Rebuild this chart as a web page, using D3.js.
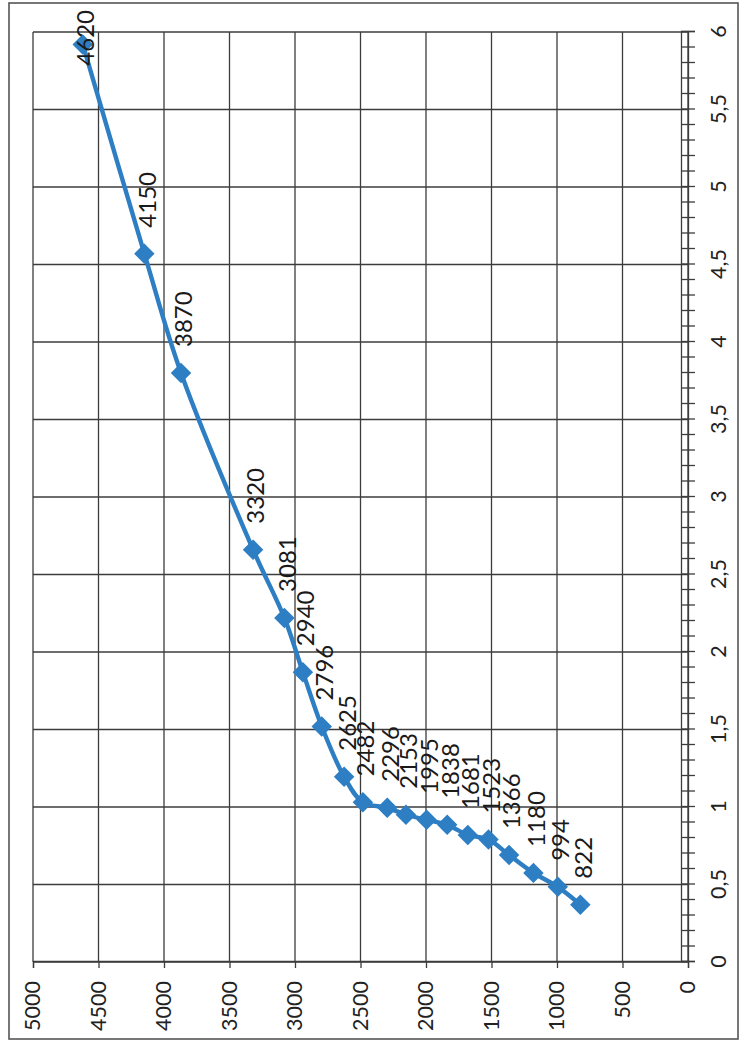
<!DOCTYPE html>
<html>
<head>
<meta charset="utf-8">
<script src="https://cdn.jsdelivr.net/npm/d3@7/dist/d3.min.js"></script>
<style>
  html, body { margin: 0; padding: 0; background: #fff; }
  svg { display: block; font-family: Lato, "Open Sans", sans-serif; }
</style>
</head>
<body>
<svg id="chart" width="743" height="1046"></svg>
<script>
// Scanned Excel scatter chart, printed sideways (rotated 90° CCW).
// Drawn in the chart's own frame, then the whole group is rotated.
const xValues = [0.37, 0.485, 0.575, 0.69, 0.79, 0.82, 0.885, 0.917, 0.95, 0.995,
                 1.03, 1.195, 1.52, 1.87, 2.22, 2.66, 3.80, 4.57, 5.92];
const yValues = [822, 994, 1180, 1366, 1523, 1681, 1838, 1995, 2153, 2296,
                 2482, 2625, 2796, 2940, 3081, 3320, 3870, 4150, 4620];
const xTicks = [0, 0.5, 1, 1.5, 2, 2.5, 3, 3.5, 4, 4.5, 5, 5.5, 6];
const yTicks = [0, 500, 1000, 1500, 2000, 2500, 3000, 3500, 4000, 4500, 5000];

const W = 743, H = 1046;
const BLUE = '#2e7ec4';
const GRID = '#3c3c3c';

const svg = d3.select('#chart');

// outer chart border (page coords)
svg.append('rect')
  .attr('x', 9).attr('y', 3).attr('width', 729).attr('height', 1036)
  .attr('fill', 'none').attr('stroke', '#555').attr('stroke-width', 1.6);

// original frame: (ox, oy) -> page (oy, H - ox)
const g = svg.append('g').attr('transform', `translate(0,${H}) rotate(-90)`);

const x = d3.scaleLinear().domain([0, 6]).range([84, 1014]);
const y = d3.scaleLinear().domain([0, 5000]).range([688, 33]);
const fmt = (d) => String(d).replace('.', ',');

// gridlines
g.append('g').selectAll('line').data(yTicks).join('line')
  .attr('x1', x(0)).attr('x2', x(6))
  .attr('y1', (d) => y(d)).attr('y2', (d) => y(d))
  .attr('stroke', GRID).attr('stroke-width', 1.3);
g.append('g').selectAll('line').data(xTicks).join('line')
  .attr('x1', (d) => x(d)).attr('x2', (d) => x(d))
  .attr('y1', y(0)).attr('y2', y(5000))
  .attr('stroke', GRID).attr('stroke-width', 1.3);

// x axis: labels + cross minor ticks every 0.1
g.append('g').attr('transform', `translate(0,${y(0)})`)
  .call(d3.axisBottom(x).tickValues(xTicks).tickFormat(fmt).tickSize(0).tickPadding(23));
const minor = d3.range(0, 61).map((i) => i / 10);
g.append('g').attr('transform', `translate(0,${y(0) - 7})`)
  .call(d3.axisBottom(x).tickValues(minor).tickFormat('').tickSize(14));

// y axis
g.append('g').attr('transform', `translate(${x(0)},0)`)
  .call(d3.axisLeft(y).tickValues(yTicks).tickFormat(d3.format('d')).tickSize(6).tickPadding(13));

g.selectAll('.domain').attr('stroke', GRID).attr('stroke-width', 1.3);
g.selectAll('.tick line').attr('stroke', GRID).attr('stroke-width', 1.3);
g.selectAll('.tick text').attr('fill', '#222').attr('font-size', 21.5)
  .attr('font-family', 'Lato, "Open Sans", sans-serif');

// series
const pts = xValues.map((v, i) => [v, yValues[i]]);
g.append('path')
  .datum(pts)
  .attr('fill', 'none').attr('stroke', BLUE).attr('stroke-width', 4.4)
  .attr('stroke-linejoin', 'round')
  .attr('d', d3.line().x((d) => x(d[0])).y((d) => y(d[1])).curve(d3.curveCatmullRom.alpha(0.5)));

const marker = d3.symbol().type(d3.symbolSquare).size(210);
g.append('g').selectAll('path').data(pts).join('path')
  .attr('d', marker)
  .attr('fill', BLUE)
  .attr('transform', (d) => `translate(${x(d[0])},${y(d[1])}) rotate(45)`);

// data labels, to the right of each point; kept inside the chart border
g.append('g').selectAll('text').data(pts).join('text')
  .attr('font-size', 24).attr('fill', '#1a1a1a')
  .attr('dy', '0.35em')
  .attr('y', (d) => y(d[1]) + 3)
  .text((d) => d[1])
  .each(function (d) {
    const len = this.getComputedTextLength();
    const start = Math.min(x(d[0]) + 26, 1036 - len);
    d3.select(this).attr('x', start);
  });
</script>
</body>
</html>
